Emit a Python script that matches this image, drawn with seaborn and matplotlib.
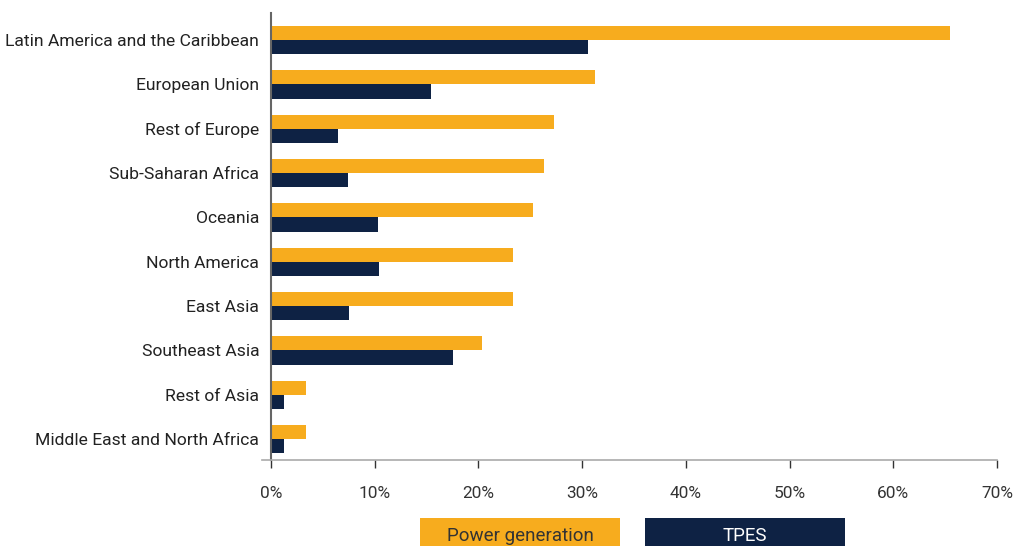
import matplotlib
matplotlib.use('Agg')
import matplotlib.pyplot as plt
import matplotlib.patches as mpatches
import seaborn as sns
import pandas as pd
from matplotlib.ticker import PercentFormatter

regions = ['Latin America and the Caribbean', 'European Union', 'Rest of Europe',
           'Sub-Saharan Africa', 'Oceania', 'North America', 'East Asia',
           'Southeast Asia', 'Rest of Asia', 'Middle East and North Africa']
power_generation = [65.5, 31.2, 27.3, 26.3, 25.3, 23.3, 23.3, 20.3, 3.4, 3.4]
tpes = [30.6, 15.4, 6.5, 7.4, 10.3, 10.4, 7.5, 17.5, 1.25, 1.25]
series = ['Power generation', 'TPES']
colors = ['#F7AC1E', '#0E2244']

df = pd.DataFrame({
    'region': regions * 2,
    'share': power_generation + tpes,
    'series': [series[0]] * len(regions) + [series[1]] * len(regions),
})

sns.set_style('white')
plt.rcParams['font.family'] = ['Roboto', 'DejaVu Sans']

fig = plt.figure(figsize=(10.27, 5.46), dpi=100)
ax = fig.add_axes([271 / 1027, 1 - 460 / 546, 726 / 1027, 447 / 546])

sns.barplot(data=df, y='region', x='share', hue='series', order=regions,
            hue_order=series, palette=colors, orient='h', width=0.64,
            saturation=1, legend=False, linewidth=0, ax=ax)

ax.set_xlim(0, 70)
ax.set_ylim(9.47, -0.61)
ax.set_xticks(range(0, 71, 10))
ax.xaxis.set_major_formatter(PercentFormatter(decimals=0))
ax.set_xlabel('')
ax.set_ylabel('')

for side in ['top', 'right']:
    ax.spines[side].set_visible(False)
ax.spines['left'].set_color('#666666')
ax.spines['left'].set_linewidth(1.5)
ax.spines['bottom'].set_color('#aaaaaa')
ax.spines['bottom'].set_linewidth(1.2)
ax.spines['bottom'].set_bounds(-0.9, 70)

ax.tick_params(axis='x', which='both', bottom=True, length=6, width=1,
               color='#333333', labelsize=12.4, labelcolor='#333333', pad=13)
ax.tick_params(axis='y', left=False, labelsize=12.6, labelcolor='#222222', pad=5)

# legend boxes under the axis
for i, (name, col) in enumerate(zip(series, colors)):
    x0 = (420 + i * 225) / 1027
    fig.patches.append(mpatches.Rectangle((x0, 0), 200 / 1027, 28 / 546,
                                          transform=fig.transFigure,
                                          facecolor=col, edgecolor='none'))
    fig.text(x0 + 100 / 1027, 10 / 546, name, ha='center', va='center',
             fontsize=13.5, color='#333333' if i == 0 else 'white')

plt.savefig('out.png', dpi=100)
plt.close()
